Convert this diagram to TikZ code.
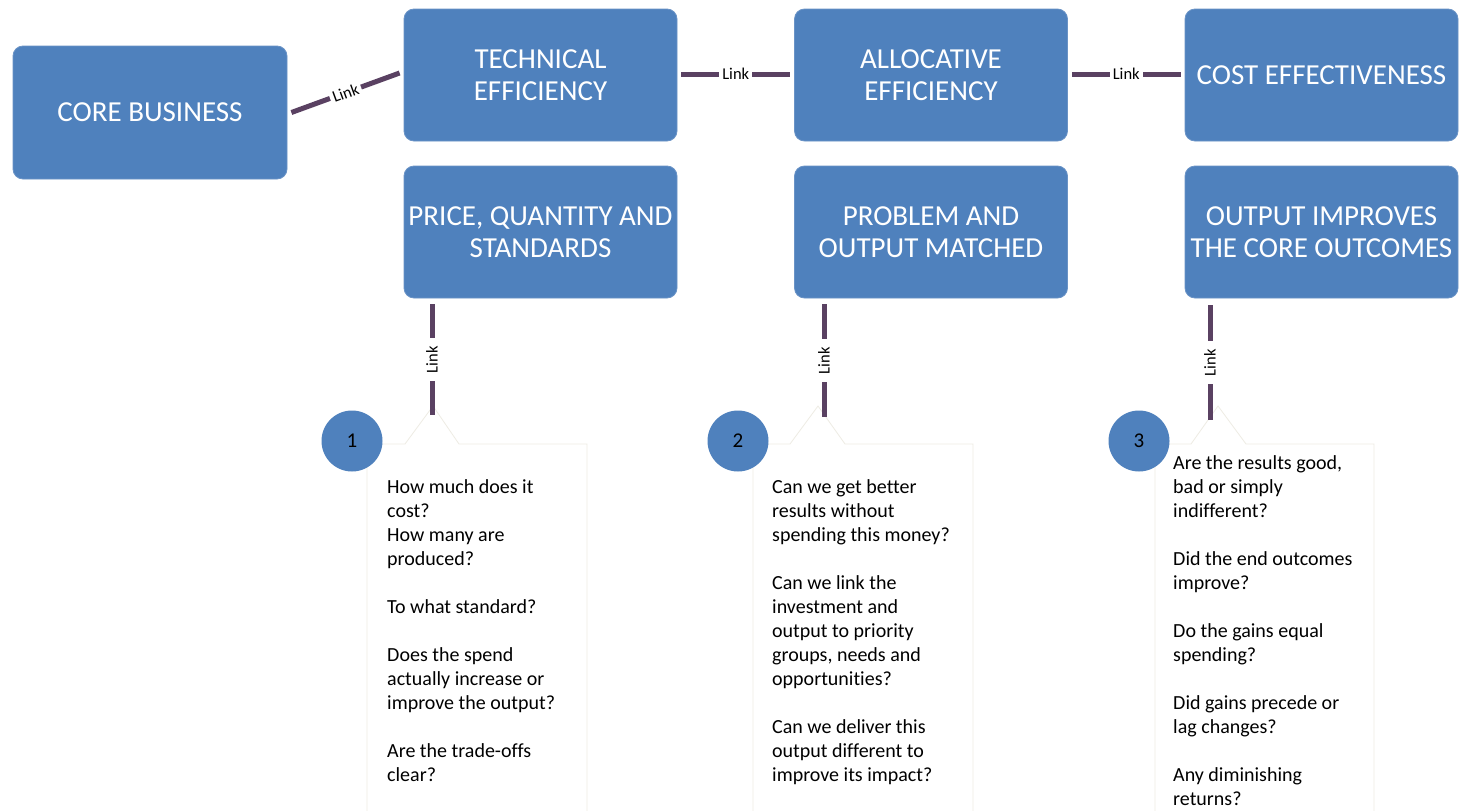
\documentclass[tikz,border=0pt]{standalone}
\usepackage{fontspec}
\setmainfont{Carlito}[Ligatures={NoCommon}]
\usetikzlibrary{calc}
\definecolor{boxblue}{HTML}{4F81BD}
\definecolor{boxedge}{HTML}{6A93C6}
\definecolor{linkpurple}{HTML}{5A4162}
\definecolor{calloutedge}{HTML}{EEECE4}
\begin{document}
\begin{tikzpicture}[x=1pt,y=-1pt,
  box/.style={draw=boxedge, line width=0.8pt, fill=boxblue, rounded corners=10pt,
    minimum width=273pt, minimum height=132pt, text=white, align=center,
    inner sep=0pt, font=\fontsize{29}{32}\selectfont},
  link/.style={draw=linkpurple, line width=5pt},
  linklabel/.style={fill=white, inner ysep=1pt, inner xsep=3pt, text=black,
    font=\fontsize{16.5}{18}\selectfont},
  vlabel/.style={linklabel, rotate=90, inner xsep=8pt},
  callout/.style={draw=calloutedge, line width=0.8pt, fill=white},
  num/.style={circle, fill=boxblue, minimum size=61pt, inner sep=0pt,
    font=\fontsize{21}{22}\selectfont},
  qtext/.style={anchor=base west, align=left, inner sep=0pt,
    font=\fontsize{20}{24}\selectfont}]
\clip (0,0) rectangle (1459,811);
\fill[white] (0,0) rectangle (1459,811);

% top row and second row of boxes
\node[box, minimum width=274pt, minimum height=133pt] (core) at (150,112.5) {CORE BUSINESS};
\node[box] (tech)  at (540.5,75)  {TECHNICAL\\EFFICIENCY};
\node[box] (price) at (540.5,232) {PRICE, QUANTITY AND\\STANDARDS};
\node[box] (alloc) at (931,75)    {ALLOCATIVE\\EFFICIENCY};
\node[box] (prob)  at (931,232)   {PROBLEM AND\\OUTPUT MATCHED};
\node[box] (cost)  at (1321.5,75) {COST EFFECTIVENESS};
\node[box] (outp)  at (1321.5,232){OUTPUT IMPROVES\\THE CORE OUTCOMES};

% callout tips
\coordinate (t1) at (433,406);
\coordinate (t2) at (818,406);
\coordinate (t3) at (1218,406);

% callout panels with pointers
\draw[callout] (367,830) -- (367,444) -- (405,444) -- (t1) -- (459,444) -- (587,444) -- (587,830);
\draw[callout] (753,830) -- (753,444) -- (790,444) -- (t2) -- (845,444) -- (973,444) -- (973,830);
\draw[callout] (1155,830) -- (1155,444) -- (1191,444) -- (t3) -- (1246,444) -- (1374,444) -- (1374,830);

% end points of the vertical links
\coordinate (l1) at (432,415);
\coordinate (l2) at (824,417);
\coordinate (l3) at (1210,420);

% horizontal and diagonal links
\draw[link] ($(core.east)+(4,0)$) -- node[linklabel, sloped] {Link} ($(tech.west)+(-4,-2)$);
\draw[link] ($(tech.east)+(4,-1)$) -- node[linklabel] {Link} ($(alloc.west)+(-4,-1)$);
\draw[link] ($(alloc.east)+(4,-1)$) -- node[linklabel] {Link} ($(cost.west)+(-4,-1)$);

% vertical links down to the callouts
\draw[link] ($(price.south -| l1)+(0,6)$) -- node[vlabel] {Link} (l1);
\draw[link] ($(prob.south -| l2)+(0,6)$) -- node[vlabel] {Link} (l2);
\draw[link] ($(outp.south -| l3)+(0,7)$) -- node[vlabel] {Link} (l3);

% numbered circles
\node[num] (n1) at (352,441) {1};
\node[num] (n2) at (738,441) {2};
\node[num] (n3) at (1139,441) {3};

% questions (anchored at the baseline of the last line)
\node[qtext] (q1) at (387,781) {How much does it\\cost?\\How many are\\produced?\\[24pt]To what standard?\\[24pt]Does the spend\\actually increase or\\improve the output?\\[24pt]Are the trade-offs\\clear?};
\node[qtext] (q2) at (772,781) {Can we get better\\results without\\spending this money?\\[24pt]Can we link the\\investment and\\output to priority\\groups, needs and\\opportunities?\\[24pt]Can we deliver this\\output different to\\improve its impact?};
\node[qtext] (q3) at (1173,805) {Are the results good,\\bad or simply\\indifferent?\\[24pt]Did the end outcomes\\improve?\\[24pt]Do the gains equal\\spending?\\[24pt]Did gains precede or\\lag changes?\\[24pt]Any diminishing\\returns?};
\end{tikzpicture}
\end{document}
